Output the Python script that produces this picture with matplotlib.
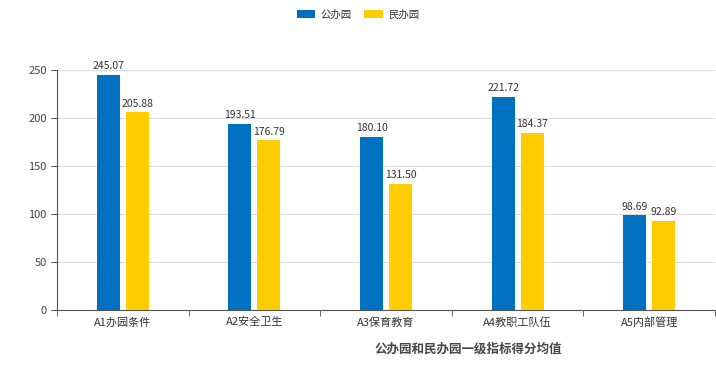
import numpy as np
import matplotlib
matplotlib.use("Agg")
from matplotlib import pyplot as plt

plt.rcParams["font.family"] = ["Noto Sans CJK SC", "DejaVu Sans"]

# Data
categories = ["A1办园条件", "A2安全卫生", "A3保育教育", "A4教职工队伍", "A5内部管理"]
public_scores = [245.07, 193.51, 180.10, 221.72, 98.69]
private_scores = [205.88, 176.79, 131.50, 184.37, 92.89]
series_names = ["公办园", "民办园"]
colors = ["#0070C0", "#FFCC00"]

fig = plt.figure(figsize=(7.16, 3.67), dpi=100)
ax = fig.add_axes([0.0796, 0.155, 0.919, 0.654])

x = np.arange(len(categories))
width = 0.175
offset = 0.11
bars1 = ax.bar(x - offset, public_scores, width, color=colors[0], label=series_names[0], zorder=3)
bars2 = ax.bar(x + offset, private_scores, width, color=colors[1], label=series_names[1], zorder=3)

for bars, vals in [(bars1, public_scores), (bars2, private_scores)]:
    for b, v in zip(bars, vals):
        ax.text(b.get_x() + b.get_width() / 2, v + 4, f"{v:.2f}",
                ha="center", va="bottom", fontsize=7.5, color="#333333")

ax.set_xlim(-0.5, len(categories) - 0.5)
ax.set_ylim(0, 250)
ax.set_yticks(np.arange(0, 251, 50))
ax.set_xticks(x)
ax.set_xticklabels(categories, fontsize=8, color="#333333")
ax.set_xticks(np.arange(-0.5, len(categories), 1), minor=True)
ax.tick_params(axis="x", which="major", length=0, pad=5)
ax.tick_params(axis="x", which="minor", length=4, direction="out", color="#555555")
ax.tick_params(axis="y", length=4, labelsize=8, labelcolor="#444444", color="#555555")

ax.yaxis.grid(True, color="#dddddd", linewidth=0.8, zorder=0)
for s in ["top", "right"]:
    ax.spines[s].set_visible(False)
ax.spines["left"].set_color("#555555")
ax.spines["bottom"].set_color("#555555")

fig.legend(loc="upper center", bbox_to_anchor=(0.5, 1.0), ncol=2, frameon=False,
           fontsize=7.5, handlelength=1.8, handleheight=0.9, columnspacing=1.2,
           handletextpad=0.5, labelcolor="#333333")

fig.text(0.654, 0.05, "公办园和民办园一级指标得分均值", ha="center", va="center",
         fontsize=9, fontweight="bold", color="#464646")

fig.savefig("out.png", dpi=100)
